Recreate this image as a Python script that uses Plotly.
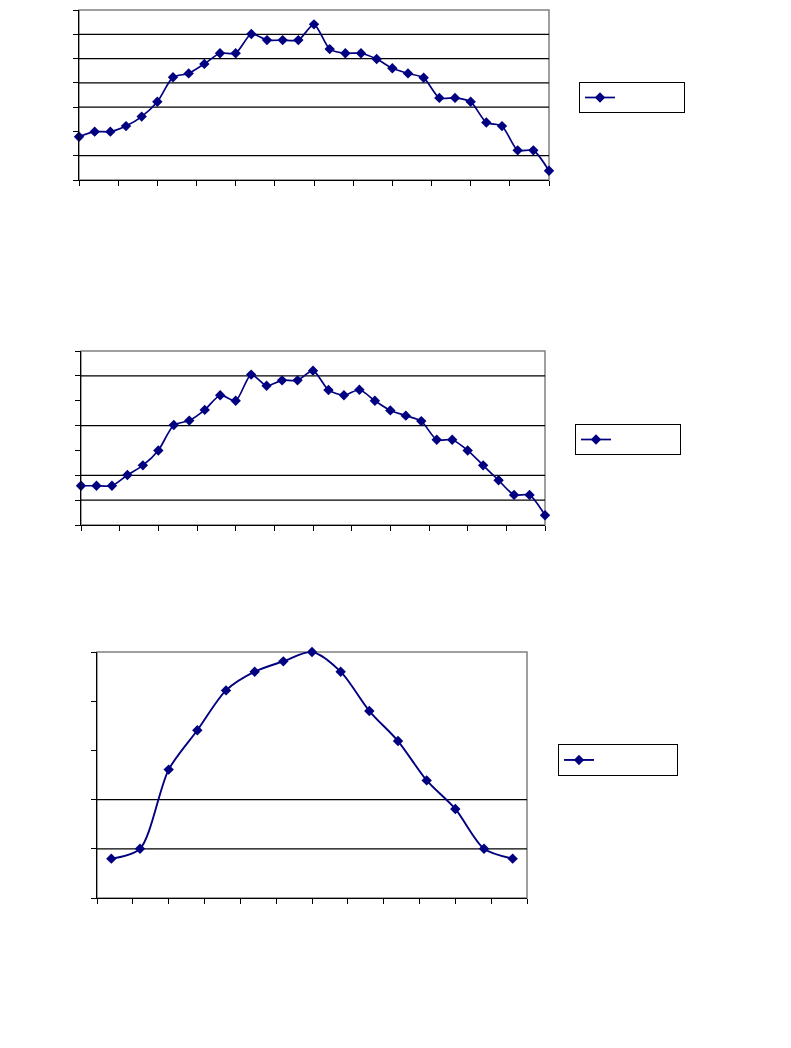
import plotly.graph_objects as go

# Sample index along the horizontal axis
x_top = list(range(31))
x_mid = list(range(31))
x_bottom = list(range(15))

# Series values
y_top = [1.78, 1.99, 1.99, 2.22, 2.61, 3.22, 4.23, 4.39, 4.78, 5.22, 5.22,
         6.01, 5.76, 5.76, 5.76, 6.41, 5.39, 5.22, 5.22, 4.98, 4.60, 4.39,
         4.21, 3.38, 3.38, 3.22, 2.37, 2.22, 1.22, 1.22, 0.38]
y_mid = [1.58, 1.58, 1.58, 2.01, 2.40, 3.00, 4.02, 4.20, 4.63, 5.22, 5.00,
         6.05, 5.60, 5.82, 5.82, 6.21, 5.43, 5.22, 5.44, 5.00, 4.61, 4.40,
         4.18, 3.43, 3.43, 3.00, 2.40, 1.80, 1.21, 1.21, 0.39]
y_bottom = [0.80, 1.00, 2.61, 3.41, 4.22, 4.60, 4.81, 5.00, 4.60, 3.80,
            3.19, 2.39, 1.81, 1.00, 0.80]

W, H = 791, 1048
NAVY = "#000080"


def px_x(p):
    return p / W


def px_y(p):
    return 1 - p / H


panels = [
    dict(x=x_top, y=y_top, xr=[0, 30], yr=[0, 7], xd=2.5, grid=[1, 3, 4, 5, 6],
         dom_x=(79, 549), dom_y=(10, 180), leg=(579, 82), smooth=0.7, font=11,
         pad=19, lw=1.7),
    dict(x=x_mid, y=y_mid, xr=[0, 30], yr=[0, 7], xd=2.5, grid=[1, 2, 4, 6],
         dom_x=(81, 545), dom_y=(351, 525), leg=(575, 424), smooth=0.7, font=11,
         pad=19, lw=1.7),
    dict(x=x_bottom, y=y_bottom, xr=[-0.5, 14.5], yr=[0, 5], xd=1.25, grid=[1, 2],
         dom_x=(97, 527), dom_y=(652, 898), leg=(558, 744), smooth=0.8, font=13,
         pad=20, lw=1.9),
]

fig = go.Figure()
layout = dict(
    width=W, height=H,
    margin=dict(l=0, r=0, t=0, b=0),
    paper_bgcolor="white", plot_bgcolor="white",
    showlegend=True,
    shapes=[],
)

for i, p in enumerate(panels, start=1):
    sfx = "" if i == 1 else str(i)
    xa, ya = "x" + sfx, "y" + sfx
    leg = "legend" + sfx
    fig.add_trace(go.Scatter(
        x=p["x"], y=p["y"], xaxis=xa, yaxis=ya, mode="lines+markers",
        name="\u00a0" * p["pad"], legend=leg, cliponaxis=False,
        line=dict(color=NAVY, width=p["lw"], shape="spline", smoothing=p["smooth"]),
        marker=dict(symbol="diamond", size=8, color=NAVY),
    ))
    axis_common = dict(showgrid=False, zeroline=False, showticklabels=False,
                       showline=True, linecolor="black", linewidth=1,
                       ticks="outside", ticklen=5, tickcolor="black", tickwidth=1)
    layout["xaxis" + sfx] = dict(axis_common, range=p["xr"], tick0=p["xr"][0], dtick=p["xd"],
                                 domain=[px_x(p["dom_x"][0]), px_x(p["dom_x"][1])],
                                 anchor=ya)
    layout["yaxis" + sfx] = dict(axis_common, range=p["yr"], dtick=1,
                                 domain=[px_y(p["dom_y"][1]), px_y(p["dom_y"][0])],
                                 anchor=xa)
    # plot-area frame (grey top / right edges)
    layout["shapes"].append(dict(type="rect", xref=xa + " domain", yref=ya + " domain",
                                 x0=0, x1=1, y0=0, y1=1, layer="below",
                                 line=dict(color="#808080", width=1.5)))
    for g in p["grid"]:
        layout["shapes"].append(dict(type="line", xref=xa + " domain", yref=ya,
                                     x0=0, x1=1, y0=g, y1=g, layer="below",
                                     line=dict(color="black", width=1.2)))
    layout[leg] = dict(x=px_x(p["leg"][0]), y=px_y(p["leg"][1]),
                       xanchor="left", yanchor="top",
                       bordercolor="black", borderwidth=1, bgcolor="white",
                       font=dict(family="Arial, Liberation Sans", size=p["font"], color="black"))

fig.update_layout(**layout)
fig.write_html("out.html")
